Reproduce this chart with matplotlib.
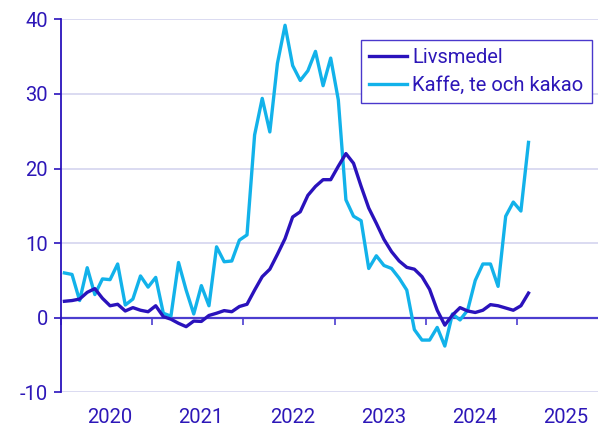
import numpy as np
import matplotlib
matplotlib.use("Agg")
import matplotlib.pyplot as plt

# Monthly data, Jan 2020 - Feb 2025 (annual % change)
years = ["2020", "2021", "2022", "2023", "2024", "2025"]
livsmedel = [2.2, 2.3, 2.5, 3.4, 3.9, 2.6, 1.6, 1.8, 0.9, 1.35, 1.0, 0.8,
             1.6, 0.15, -0.2, -0.75, -1.2, -0.45, -0.5, 0.3, 0.6, 0.95, 0.8, 1.5,
             1.8, 3.7, 5.5, 6.5, 8.5, 10.6, 13.5, 14.2, 16.4, 17.6, 18.5, 18.5,
             20.3, 22.0, 20.7, 17.6, 14.7, 12.65, 10.5, 8.85, 7.6, 6.75, 6.5, 5.5,
             3.8, 1.0, -1.0, 0.35, 1.35, 0.9, 0.7, 1.0, 1.75, 1.6, 1.3, 1.0,
             1.6, 3.3]
kaffe = [6.0, 5.8, 2.3, 6.7, 3.1, 5.2, 5.1, 7.2, 1.7, 2.5, 5.6, 4.1,
         5.4, 0.6, 0.2, 7.4, 3.7, 0.5, 4.3, 1.6, 9.5, 7.5, 7.6, 10.4,
         11.1, 24.5, 29.4, 24.9, 34.1, 39.2, 33.8, 31.8, 33.1, 35.7, 31.1, 34.8,
         29.2, 15.8, 13.6, 13.0, 6.6, 8.3, 7.0, 6.6, 5.3, 3.7, -1.6, -3.0,
         -3.0, -1.3, -3.8, 0.5, -0.3, 1.0, 5.0, 7.2, 7.2, 4.2, 13.6, 15.5,
         14.3, 23.5]
series_names = ["Livsmedel", "Kaffe, te och kakao"]

dark = "#2a12bc"
light = "#12b2ea"
textc = "#2d17b8"
gridc = "#d8d8f0"
axisc = "#4b3dcf"

plt.rcParams['font.family'] = ['Roboto', 'DejaVu Sans']

W, H = 598, 428
fig = plt.figure(figsize=(W / 100, H / 100), dpi=100)
left_px, right_px = 60.6, 598
top_px, bot_px = 19.3, 392.3
ax = fig.add_axes([left_px / W, 1 - bot_px / H, (right_px - left_px) / W, (bot_px - top_px) / H])

slot = 91.3 / 12
x = np.arange(len(livsmedel)) + 0.5
ax.plot(x, livsmedel, color=dark, lw=2.4, label=series_names[0], zorder=4)
ax.plot(x, kaffe, color=light, lw=2.4, label=series_names[1], zorder=3)

# y axis
ax.set_yticks([-10, 0, 10, 20, 30, 40])
ax.set_yticklabels(["-10", "0", "10", "20", "30", "40"])
ax.yaxis.grid(True, color=gridc, lw=1.3, zorder=0)
ax.set_axisbelow(True)

for s in ["top", "right"]:
    ax.spines[s].set_visible(False)
ax.spines["left"].set_color(dark)
ax.spines["left"].set_linewidth(1.3)
ax.spines["bottom"].set_position(("data", 0))
ax.spines["bottom"].set_color(axisc)
ax.spines["bottom"].set_linewidth(1.6)
ax.spines["bottom"].set_zorder(2)

fs = 14.5
ax.tick_params(axis="y", direction="out", length=5, width=1.2, color=dark,
               labelcolor=textc, labelsize=fs, pad=4)

ax.set_xticks(np.arange(0, 61, 12))
ax.set_xticklabels([""] * 6)
ax.set_xticks(np.arange(6, 72, 12) + 0.45, minor=True)
ax.set_xticklabels(years, minor=True)
ax.tick_params(axis="x", which="major", direction="out", length=5, width=1.2, color=axisc)
ax.tick_params(axis="x", which="minor", length=0, labelcolor=textc, labelsize=fs, pad=65)

ax.set_xlim(0, (right_px - left_px) / slot)
ax.set_ylim(-10, 40)

leg = ax.legend(loc="upper right", bbox_to_anchor=((592 - left_px) / (right_px - left_px), 1 - (40 - top_px) / (bot_px - top_px)),
                borderaxespad=0, frameon=True, fancybox=False, fontsize=fs,
                handlelength=1.9, handletextpad=0.25, labelspacing=0.42,
                borderpad=0.42, labelcolor=textc)
leg.get_frame().set_edgecolor("#4a38cc")
leg.get_frame().set_linewidth(1.0)
leg.get_frame().set_alpha(1)

fig.savefig("out.png", dpi=100)
